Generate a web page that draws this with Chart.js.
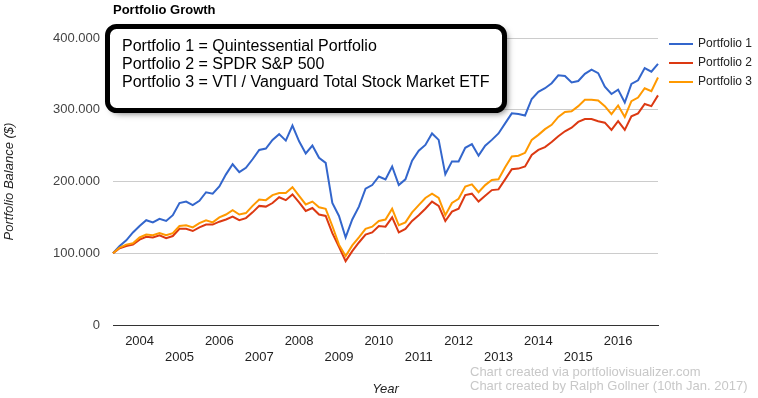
<!DOCTYPE html>
<html>
<head>
<meta charset="utf-8">
<script src="https://cdn.jsdelivr.net/npm/chart.js@4.4.0/dist/chart.umd.min.js"></script>
<style>
  html, body { margin: 0; padding: 0; background: #fff; }
  canvas { display: block; }
</style>
</head>
<body>
<canvas id="chart" width="758" height="398"></canvas>
<script>
// bimonthly points, May 2003 .. Jan 2017
const monthLabels = [
  '2003-05','2003-07','2003-09','2003-11',
  '2004-01','2004-03','2004-05','2004-07','2004-09','2004-11',
  '2005-01','2005-03','2005-05','2005-07','2005-09','2005-11',
  '2006-01','2006-03','2006-05','2006-07','2006-09','2006-11',
  '2007-01','2007-03','2007-05','2007-07','2007-09','2007-11',
  '2008-01','2008-03','2008-05','2008-07','2008-09','2008-11',
  '2009-01','2009-03','2009-05','2009-07','2009-09','2009-11',
  '2010-01','2010-03','2010-05','2010-07','2010-09','2010-11',
  '2011-01','2011-03','2011-05','2011-07','2011-09','2011-11',
  '2012-01','2012-03','2012-05','2012-07','2012-09','2012-11',
  '2013-01','2013-03','2013-05','2013-07','2013-09','2013-11',
  '2014-01','2014-03','2014-05','2014-07','2014-09','2014-11',
  '2015-01','2015-03','2015-05','2015-07','2015-09','2015-11',
  '2016-01','2016-03','2016-05','2016-07','2016-09','2016-11',
  '2017-01'
];
const yearLabels = ['2004','2005','2006','2007','2008','2009','2010',
  '2011','2012','2013','2014','2015','2016'];

// portfolio balance in thousands of $
const portfolio1 = [100,110,118,129,138,146,143,148,145,153,
  170,172,167,173,185,183,193,210,224,213,
  219,231,244,246,258,266,257,278,256,239,
  250,233,226,170,152,122,147,165,190,195,
  207,203,221,195,203,229,243,251,267,258,
  210,228,228,247,252,236,250,258,267,281,
  295,294,292,315,325,330,337,348,347,338,
  340,350,356,351,332,322,328,310,336,341,
  358,353,364];
const portfolio2 = [100,107,110,112,119,123,122,125,121,124,
  134,134,131,136,140,140,144,147,151,146,
  149,157,166,165,170,178,174,182,171,159,
  163,154,152,128,109,89,103,115,126,129,
  138,137,150,129,134,145,153,162,172,166,
  145,158,162,181,183,172,180,188,189,203,
  217,218,221,237,244,248,255,263,270,275,
  283,287,287,284,282,272,284,272,291,295,
  308,305,320];
const portfolio3 = [100,108,112,114,122,126,125,128,125,128,
  138,139,136,142,146,143,150,154,160,154,
  156,166,175,174,181,184,184,192,180,168,
  172,164,162,138,112,96,111,122,134,137,
  145,147,162,139,143,157,167,177,183,177,
  153,170,176,193,196,185,195,202,203,220,
  235,236,240,258,265,273,279,290,297,298,
  305,314,314,313,305,294,306,290,312,317,
  330,326,345];

const seriesNames = ['Portfolio 1', 'Portfolio 2', 'Portfolio 3'];
const seriesColors = ['#3366cc', '#dc3912', '#ff9900'];
const noteLines = [
  'Portfolio 1 = Quintessential Portfolio',
  'Portfolio 2 = SPDR S&P 500',
  'Portfolio 3 = VTI / Vanguard Total Stock Market ETF'
];
const creditLines = [
  'Chart created via portfoliovisualizer.com',
  'Chart created by Ralph Gollner (10th Jan. 2017)'
];

const FONT = 'Arial, "Liberation Sans", sans-serif';
Chart.defaults.font.family = FONT;

const toDollars = arr => arr.map(v => v * 1000);

const decorPlugin = {
    id: 'decor',
    afterDraw(chart) {
        const ctx = chart.ctx;
        ctx.save();

        // title
        ctx.fillStyle = '#000';
        ctx.font = 'bold 13px ' + FONT;
        ctx.textBaseline = 'alphabetic';
        ctx.textAlign = 'left';
        ctx.fillText('Portfolio Growth', 113, 14);

        // legend on the right
        ctx.font = '12px ' + FONT;
        ctx.textBaseline = 'middle';
        seriesNames.forEach((name, i) => {
            const y = 44 + i * 19;
            ctx.strokeStyle = seriesColors[i];
            ctx.lineWidth = 2;
            ctx.beginPath();
            ctx.moveTo(669, y);
            ctx.lineTo(693, y);
            ctx.stroke();
            ctx.fillStyle = '#222';
            ctx.fillText(name, 698, y);
        });

        // credits
        ctx.fillStyle = '#c8c8c8';
        ctx.font = '13px ' + FONT;
        creditLines.forEach((t, i) => ctx.fillText(t, 470, 372 + i * 14));

        // note box
        const bx = 107.5, by = 26.5, bw = 397, bh = 84, r = 9;
        ctx.beginPath();
        ctx.roundRect(bx, by, bw, bh, r);
        ctx.shadowColor = 'rgba(0,0,0,0.55)';
        ctx.shadowBlur = 6;
        ctx.shadowOffsetX = 3;
        ctx.shadowOffsetY = 3;
        ctx.fillStyle = '#fff';
        ctx.fill();
        ctx.shadowColor = 'transparent';
        ctx.lineWidth = 5;
        ctx.strokeStyle = '#000';
        ctx.stroke();

        ctx.fillStyle = '#000';
        ctx.font = '16px ' + FONT;
        ctx.textBaseline = 'alphabetic';
        noteLines.forEach((t, i) => ctx.fillText(t, 122, 51 + i * 18));

        ctx.restore();
    }
};

const ctx = document.getElementById('chart').getContext('2d');
new Chart(ctx, {
    type: 'line',
    data: {
        labels: monthLabels,
        datasets: [
            { label: seriesNames[0], data: toDollars(portfolio1), borderColor: seriesColors[0], order: 2 },
            { label: seriesNames[1], data: toDollars(portfolio2), borderColor: seriesColors[1], order: 1 },
            { label: seriesNames[2], data: toDollars(portfolio3), borderColor: seriesColors[2], order: 0 }
        ]
    },
    options: {
        responsive: false,
        animation: false,
        devicePixelRatio: 1,
        layout: { padding: { left: 0, right: 100, top: 38, bottom: 0 } },
        elements: {
            line: { borderWidth: 2, tension: 0, fill: false },
            point: { radius: 0 }
        },
        plugins: {
            legend: { display: false },
            title: { display: false },
            tooltip: { enabled: false }
        },
        scales: {
            x: {
                afterFit(scale) { scale.height = 73; },
                grid: { display: false, drawTicks: false },
                border: { display: true, color: '#333', width: 1 },
                ticks: {
                    autoSkip: false,
                    maxRotation: 0,
                    padding: 9,
                    color: '#222',
                    font: { size: 13 },
                    callback(value, index) {
                        const lab = monthLabels[index];
                        const yr = lab.slice(0, 4);
                        if (lab.slice(5) !== '01' || !yearLabels.includes(yr)) return null;
                        return (+yr % 2 === 0) ? yr : ['', yr];
                    }
                },
                title: {
                    display: true,
                    text: 'Year',
                    color: '#222',
                    font: { size: 13, style: 'italic' },
                    padding: { top: 0, bottom: 1 }
                }
            },
            y: {
                min: 0,
                max: 400000,
                afterFit(scale) { scale.width = 113; },
                border: { display: false },
                grid: {
                    drawTicks: false,
                    color: c => c.tick.value === 0 ? '#333' : '#ccc'
                },
                ticks: {
                    stepSize: 100000,
                    padding: 13,
                    color: '#444',
                    font: { size: 13 },
                    callback: v => v === 0 ? '0' : (v / 1000) + '.000'
                },
                title: {
                    display: true,
                    text: 'Portfolio Balance ($)',
                    color: '#222',
                    font: { size: 13, style: 'italic' },
                    padding: { top: 2, bottom: 0 }
                }
            }
        }
    },
    plugins: [decorPlugin]
});
</script>
</body>
</html>
